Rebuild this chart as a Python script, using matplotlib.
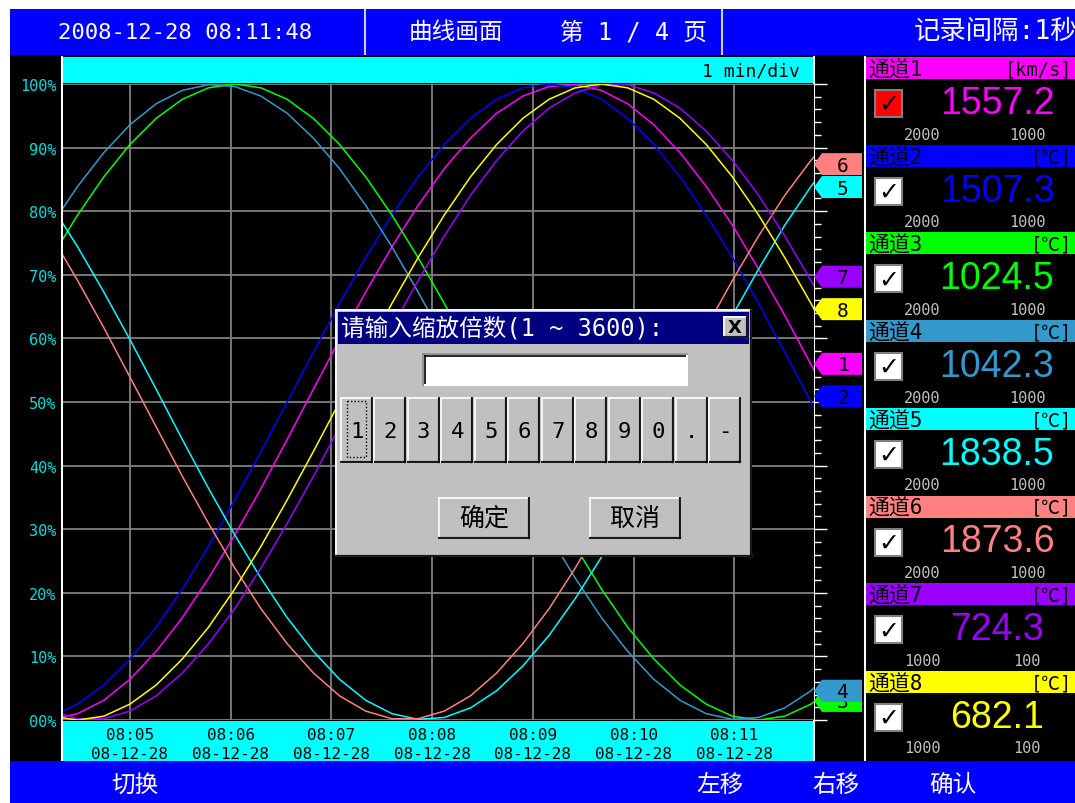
import matplotlib
matplotlib.use("Agg")
import matplotlib.pyplot as plt
from matplotlib.patches import Rectangle, Polygon
from matplotlib.ticker import MultipleLocator

plt.rcParams['font.family'] = ['DejaVu Sans Mono', 'Noto Sans CJK SC']

# ---- data read from the screen ----
# sample times, minutes after 08:00
minutes = [4.22, 4.48, 4.74, 5.00, 5.26, 5.52, 5.78, 6.04, 6.30, 6.56, 6.82,
           7.08, 7.34, 7.60, 7.86, 8.12, 8.38, 8.64, 8.90, 9.16, 9.42, 9.68,
           9.94, 10.20, 10.46, 10.72, 10.98, 11.24, 11.50, 11.76, 12.02]

ch1 = [0.1, 1.0, 3.1, 6.4, 10.8, 16.1, 22.3, 29.1, 36.4, 44.1, 52.0, 59.8, 67.3,
       74.4, 80.9, 86.7, 91.5, 95.4, 98.1, 99.6, 99.9, 99.0, 96.9, 93.6, 89.2,
       83.9, 77.8, 70.9, 63.6, 55.9, 48.0]
ch2 = [0.6, 2.5, 5.5, 9.6, 14.6, 20.6, 27.3, 34.6, 42.2, 50.0, 57.8, 65.5, 72.7,
       79.4, 85.4, 90.5, 94.6, 97.6, 99.4, 100.0, 99.4, 97.6, 94.6, 90.5, 85.4,
       79.4, 72.7, 65.5, 57.8, 50.0, 42.2]
ch3 = [72.7, 79.4, 85.4, 90.5, 94.6, 97.6, 99.4, 100.0, 99.4, 97.6, 94.6, 90.5,
       85.4, 79.4, 72.7, 65.5, 57.8, 50.0, 42.2, 34.6, 27.3, 20.6, 14.6, 9.6,
       5.5, 2.5, 0.6, 0.0, 0.6, 2.5, 5.5]
ch4 = [77.8, 83.9, 89.2, 93.6, 96.9, 99.0, 99.9, 99.6, 98.1, 95.4, 91.5, 86.7,
       80.9, 74.4, 67.3, 59.8, 52.0, 44.1, 36.4, 29.1, 22.3, 16.1, 10.8, 6.4,
       3.1, 1.0, 0.1, 0.4, 1.9, 4.6, 8.5]
ch5 = [80.9, 74.4, 67.3, 59.8, 52.0, 44.1, 36.4, 29.1, 22.3, 16.1, 10.8, 6.4,
       3.1, 1.0, 0.1, 0.4, 1.9, 4.6, 8.5, 13.3, 19.1, 25.6, 32.7, 40.3, 48.0,
       55.9, 63.6, 70.9, 77.8, 83.9, 89.2]
ch6 = [76.1, 69.1, 61.7, 53.9, 46.1, 38.3, 30.9, 23.9, 17.5, 12.0, 7.4, 3.8,
       1.4, 0.2, 0.2, 1.4, 3.8, 7.4, 12.0, 17.5, 23.9, 30.9, 38.3, 46.1, 53.9,
       61.7, 69.1, 76.1, 82.5, 88.0, 92.6]
ch7 = [1.4, 0.2, 0.2, 1.4, 3.8, 7.4, 12.0, 17.5, 23.9, 30.9, 38.3, 46.1, 53.9,
       61.7, 69.1, 76.1, 82.5, 88.0, 92.6, 96.2, 98.6, 99.9, 99.9, 98.6, 96.2,
       92.6, 88.0, 82.5, 76.1, 69.1, 61.7]
ch8 = [0.6, 0.0, 0.6, 2.5, 5.5, 9.6, 14.6, 20.6, 27.3, 34.6, 42.2, 50.0, 57.8,
       65.5, 72.7, 79.4, 85.4, 90.5, 94.6, 97.6, 99.4, 100.0, 99.4, 97.6, 94.6,
       90.5, 85.4, 79.4, 72.7, 65.5, 57.8]
series = [ch1, ch2, ch3, ch4, ch5, ch6, ch7, ch8]

colors = ['#ff00ff', '#0000ff', '#00ff00', '#3399cc',
          '#00ffff', '#ff8080', '#9900ff', '#ffff00']
channel_names = ['通道1', '通道2', '通道3', '通道4', '通道5', '通道6', '通道7', '通道8']
units = ['[km/s]', '[℃]', '[℃]', '[℃]', '[℃]', '[℃]', '[℃]', '[℃]']
readings = ['1557.2', '1507.3', '1024.5', '1042.3', '1838.5', '1873.6', '724.3', '682.1']
range_hi = ['2000', '2000', '2000', '2000', '2000', '2000', '1000', '1000']
range_lo = ['1000', '1000', '1000', '1000', '1000', '1000', '100', '100']
# where each channel tag sits on the right ruler (percent)
tag_values = [56.0, 50.9, 3.0, 4.6, 83.8, 87.4, 69.7, 64.6]
tag_order = [5, 4, 6, 7, 0, 1, 2, 3]

time_ticks = [5, 6, 7, 8, 9, 10, 11]
time_labels = ['08:05\n08-12-28', '08:06\n08-12-28', '08:07\n08-12-28',
               '08:08\n08-12-28', '08:09\n08-12-28', '08:10\n08-12-28',
               '08:11\n08-12-28']
pct_ticks = [0, 10, 20, 30, 40, 50, 60, 70, 80, 90, 100]
pct_labels = ['00%', '10%', '20%', '30%', '40%', '50%', '60%', '70%', '80%', '90%', '100%']
keypad = ['1', '2', '3', '4', '5', '6', '7', '8', '9', '0', '.', '-']

W, H = 1075, 804
fig = plt.figure(figsize=(W / 100, H / 100), dpi=100)


def box(a, x0, y0, x1, y1, color, **kw):
    a.add_patch(Rectangle((x0, y0), x1 - x0, y1 - y0, facecolor=color,
                          edgecolor='none', **kw))


def line(a, xs, ys, color, lw=1.0, **kw):
    a.plot(xs, ys, color=color, lw=lw, solid_capstyle='butt', **kw)


def raised(a, x0, y0, x1, y1):
    box(a, x0, y0, x1, y1, '#c0c0c0')
    line(a, [x0, x1], [y0 + 0.7, y0 + 0.7], 'white', 1.2)
    line(a, [x0 + 0.7, x0 + 0.7], [y0, y1], 'white', 1.2)
    line(a, [x0, x1], [y1 - 2, y1 - 2], '#808080', 1.0)
    line(a, [x1 - 2, x1 - 2], [y0, y1], '#808080', 1.0)
    line(a, [x0, x1], [y1 - 0.7, y1 - 0.7], 'black', 1.2)
    line(a, [x1 - 0.7, x1 - 0.7], [y0, y1], 'black', 1.2)


# ---- background screen ----
bg = fig.add_axes([0, 0, 1, 1], zorder=0)
bg.set_xlim(0, W)
bg.set_ylim(H, 0)
bg.axis('off')
box(bg, 0, 0, W, H, 'white')
box(bg, 10, 55, W, 762, 'black')
box(bg, 10, 10, W, 56, '#0000ff')
box(bg, 10, 762, W, H, '#0000ff')
line(bg, [365, 365], [10, 56], '#d0d0d0', 1.5)
line(bg, [722, 722], [10, 56], '#d0d0d0', 1.5)
box(bg, 63, 58, 813, 84, '#00ffff')
box(bg, 63, 722, 813, 762, '#00ffff')
for xv in [62, 814, 865]:
    line(bg, [xv, xv], [57, 762], 'white', 1.5)

bg.text(185, 33, '2008-12-28 08:11:48', color='white', fontsize=16,
        ha='center', va='center')
bg.text(456, 32, '曲线画面', color='white', fontsize=17, ha='center', va='center')
bg.text(634, 32, '第 1 / 4 页', color='white', fontsize=17, ha='center', va='center')
bg.text(914, 32, '记录间隔:1秒', color='white', fontsize=19, ha='left', va='center')
bg.text(800, 71, '1 min/div', color='black', fontsize=13, ha='right', va='center')

for label, xc in zip(['切换', '左移', '右移', '确认'], [135, 720, 836, 953]):
    bg.text(xc, 785, label, color='white', fontsize=17, ha='center', va='center')

# right channel panel
for i in range(8):
    hy = 58 + 87.7 * i
    box(bg, 866, hy, W, hy + 22, colors[i])
    bg.text(868, hy + 12.5, channel_names[i], color='black', fontsize=15,
            ha='left', va='center')
    bg.text(1072, hy + 12, units[i], color='black', fontsize=13.5,
            ha='right', va='center')
    bg.add_patch(Rectangle((875, hy + 33), 27, 27,
                           facecolor='#ff0000' if i == 0 else 'white',
                           edgecolor='#808080', lw=1.5))
    bg.text(888.5, hy + 47, '✓', color='black', fontsize=18, ha='center',
            va='center', family=['DejaVu Sans'])
    bg.text(997, hy + 46, readings[i], color=colors[i], fontsize=27,
            ha='center', va='center', family=['Liberation Sans'])
    bg.text(922, hy + 77, range_hi[i], color='#c0c0c0', fontsize=11,
            ha='center', va='center')
    bg.text(1027, hy + 77, range_lo[i], color='#c0c0c0', fontsize=11,
            ha='center', va='center')

# ---- trend plot ----
ax = fig.add_axes([63 / W, (H - 721) / H, (814 - 63) / W, (721 - 85) / H], zorder=1)
ax.set_facecolor('black')
for vals, c in zip(series, colors):
    ax.plot(minutes, vals, color=c, lw=1.1, zorder=3)
ax.set_xlim(4.335, 11.79)
ax.set_ylim(0, 100)
ax.set_xticks(time_ticks, time_labels)
ax.set_yticks(pct_ticks, pct_labels)
ax.grid(True, color='#808080', lw=1.3)
ax.tick_params(axis='x', length=0, pad=5, labelsize=11.5, labelcolor='black')
ax.tick_params(axis='y', length=0, pad=4.5, labelsize=11, labelcolor='#00dddd')
for lab in ax.get_xticklabels():
    lab.set_linespacing(1.3)
for s in ax.spines.values():
    s.set_visible(False)

# right ruler
rx = ax.twinx()
rx.set_ylim(0, 100)
rx.set_yticks(pct_ticks)
rx.yaxis.set_minor_locator(MultipleLocator(2))
rx.tick_params(axis='y', which='major', length=9.5, width=1.0, color='white',
               labelright=False, direction='out')
rx.tick_params(axis='y', which='minor', length=5, width=1.0, color='white',
               direction='out')
for s in rx.spines.values():
    s.set_visible(False)

# ---- overlay: channel tags and dialog ----
top = fig.add_axes([0, 0, 1, 1], zorder=3)
top.set_xlim(0, W)
top.set_ylim(H, 0)
top.axis('off')

to_top = top.transData.inverted()
for n, i in enumerate(tag_order):
    py = to_top.transform(ax.transData.transform((11.79, tag_values[i])))[1]
    top.add_patch(Polygon([(814, py), (822, py - 11), (862, py - 11),
                           (862, py + 11), (822, py + 11)], closed=True,
                          facecolor=colors[i], edgecolor='none', zorder=10 + 2 * n))
    top.text(843, py + 1, str(i + 1), color='black', fontsize=14,
             ha='center', va='center', zorder=11 + 2 * n)

# dialog window
raised(top, 335, 310, 752, 558)
box(top, 338, 313, 749, 345, '#000080')
top.text(341, 329, '请输入缩放倍数(1 ~ 3600):', color='white', fontsize=17,
         ha='left', va='center')
raised(top, 723, 317, 748, 339)
top.text(735, 328, 'X', color='black', fontsize=13, fontweight='bold',
         ha='center', va='center', family=['DejaVu Sans'])

box(top, 422, 354, 688, 387, 'white')
line(top, [422, 688], [354.7, 354.7], '#808080', 1.2)
line(top, [422.7, 422.7], [354, 387], '#808080', 1.2)
line(top, [424, 686], [356.5, 356.5], 'black', 1.2)
line(top, [424.5, 424.5], [356, 385], 'black', 1.2)

bw = (742 - 340) / len(keypad)
for k, key in enumerate(keypad):
    x0 = 340 + k * bw
    raised(top, x0, 398, x0 + bw - 1, 464)
    top.text(x0 + bw / 2, 432, key, color='black', fontsize=16,
             ha='center', va='center')
top.add_patch(Rectangle((347, 402), 19, 56, facecolor='none',
                        edgecolor='black', lw=1.0, ls=(0, (1, 1.5))))

raised(top, 438, 498, 530, 540)
top.text(484, 519, '确定', color='black', fontsize=18, ha='center', va='center')
raised(top, 589, 498, 681, 540)
top.text(635, 519, '取消', color='black', fontsize=18, ha='center', va='center')

fig.savefig('out.png', dpi=100)
